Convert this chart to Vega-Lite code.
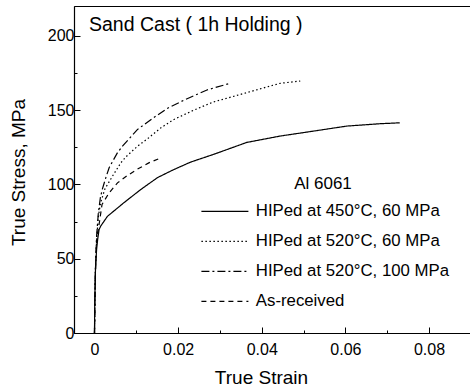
{
  "$schema": "https://vega.github.io/schema/vega-lite/v6.json",
  "width": 396,
  "height": 327,
  "autosize": "none",
  "padding": {"left": 74, "top": 6, "right": 0, "bottom": 56},
  "background": "white",
  "config": {
    "font": "Liberation Sans",
    "view": {"stroke": "black", "strokeWidth": 1}
  },
  "title": {
    "text": "Sand Cast ( 1h Holding )",
    "anchor": "start",
    "frame": "group",
    "orient": "top",
    "baseline": "alphabetic",
    "offset": 0,
    "dy": 44,
    "dx": 15,
    "font": "Liberation Sans",
    "fontSize": 19.5,
    "fontWeight": "normal",
    "color": "black"
  },
  "data": {
    "values": [
      {"series": "HIPed at 450°C, 60 MPa", "strain": 0, "stress": 0},
      {"series": "HIPed at 450°C, 60 MPa", "strain": 0.00007, "stress": 22},
      {"series": "HIPed at 450°C, 60 MPa", "strain": 0.00024, "stress": 43},
      {"series": "HIPed at 450°C, 60 MPa", "strain": 0.0005, "stress": 56},
      {"series": "HIPed at 450°C, 60 MPa", "strain": 0.00076, "stress": 63},
      {"series": "HIPed at 450°C, 60 MPa", "strain": 0.0011, "stress": 69.6},
      {"series": "HIPed at 450°C, 60 MPa", "strain": 0.0015, "stress": 72},
      {"series": "HIPed at 450°C, 60 MPa", "strain": 0.0031, "stress": 78.5},
      {"series": "HIPed at 450°C, 60 MPa", "strain": 0.0071, "stress": 87.8},
      {"series": "HIPed at 450°C, 60 MPa", "strain": 0.0111, "stress": 96.6},
      {"series": "HIPed at 450°C, 60 MPa", "strain": 0.0151, "stress": 104.6},
      {"series": "HIPed at 450°C, 60 MPa", "strain": 0.019, "stress": 110},
      {"series": "HIPed at 450°C, 60 MPa", "strain": 0.023, "stress": 115},
      {"series": "HIPed at 450°C, 60 MPa", "strain": 0.0284, "stress": 120.1},
      {"series": "HIPed at 450°C, 60 MPa", "strain": 0.0364, "stress": 128.2},
      {"series": "HIPed at 450°C, 60 MPa", "strain": 0.0444, "stress": 132.5},
      {"series": "HIPed at 450°C, 60 MPa", "strain": 0.0523, "stress": 135.8},
      {"series": "HIPed at 450°C, 60 MPa", "strain": 0.0603, "stress": 139.2},
      {"series": "HIPed at 450°C, 60 MPa", "strain": 0.0683, "stress": 140.8},
      {"series": "HIPed at 450°C, 60 MPa", "strain": 0.073, "stress": 141.4},

      {"series": "HIPed at 520°C, 60 MPa", "strain": 0, "stress": 0},
      {"series": "HIPed at 520°C, 60 MPa", "strain": 0.0002, "stress": 40},
      {"series": "HIPed at 520°C, 60 MPa", "strain": 0.0005, "stress": 62},
      {"series": "HIPed at 520°C, 60 MPa", "strain": 0.0009, "stress": 78},
      {"series": "HIPed at 520°C, 60 MPa", "strain": 0.0015, "stress": 88},
      {"series": "HIPed at 520°C, 60 MPa", "strain": 0.0025, "stress": 97},
      {"series": "HIPed at 520°C, 60 MPa", "strain": 0.0043, "stress": 105.5},
      {"series": "HIPed at 520°C, 60 MPa", "strain": 0.0063, "stress": 114.5},
      {"series": "HIPed at 520°C, 60 MPa", "strain": 0.0075, "stress": 118.5},
      {"series": "HIPed at 520°C, 60 MPa", "strain": 0.0103, "stress": 125.7},
      {"series": "HIPed at 520°C, 60 MPa", "strain": 0.0127, "stress": 130.7},
      {"series": "HIPed at 520°C, 60 MPa", "strain": 0.0159, "stress": 138.1},
      {"series": "HIPed at 520°C, 60 MPa", "strain": 0.019, "stress": 143.7},
      {"series": "HIPed at 520°C, 60 MPa", "strain": 0.0238, "stress": 150},
      {"series": "HIPed at 520°C, 60 MPa", "strain": 0.0284, "stress": 155.4},
      {"series": "HIPed at 520°C, 60 MPa", "strain": 0.0364, "stress": 161.7},
      {"series": "HIPed at 520°C, 60 MPa", "strain": 0.0444, "stress": 168},
      {"series": "HIPed at 520°C, 60 MPa", "strain": 0.0492, "stress": 169.5},

      {"series": "HIPed at 520°C, 100 MPa", "strain": 0, "stress": 0},
      {"series": "HIPed at 520°C, 100 MPa", "strain": 0.0002, "stress": 40},
      {"series": "HIPed at 520°C, 100 MPa", "strain": 0.0005, "stress": 65},
      {"series": "HIPed at 520°C, 100 MPa", "strain": 0.0009, "stress": 80},
      {"series": "HIPed at 520°C, 100 MPa", "strain": 0.0014, "stress": 91},
      {"series": "HIPed at 520°C, 100 MPa", "strain": 0.0019, "stress": 97},
      {"series": "HIPed at 520°C, 100 MPa", "strain": 0.0027, "stress": 104.4},
      {"series": "HIPed at 520°C, 100 MPa", "strain": 0.0035, "stress": 111.2},
      {"series": "HIPed at 520°C, 100 MPa", "strain": 0.0055, "stress": 121.3},
      {"series": "HIPed at 520°C, 100 MPa", "strain": 0.0067, "stress": 125.7},
      {"series": "HIPed at 520°C, 100 MPa", "strain": 0.0103, "stress": 137},
      {"series": "HIPed at 520°C, 100 MPa", "strain": 0.0139, "stress": 144.4},
      {"series": "HIPed at 520°C, 100 MPa", "strain": 0.0174, "stress": 151.1},
      {"series": "HIPed at 520°C, 100 MPa", "strain": 0.0218, "stress": 157.2},
      {"series": "HIPed at 520°C, 100 MPa", "strain": 0.0269, "stress": 163.5},
      {"series": "HIPed at 520°C, 100 MPa", "strain": 0.0324, "stress": 168},

      {"series": "As-received", "strain": 0, "stress": 0},
      {"series": "As-received", "strain": 0.0002, "stress": 40},
      {"series": "As-received", "strain": 0.0005, "stress": 62},
      {"series": "As-received", "strain": 0.0011, "stress": 73},
      {"series": "As-received", "strain": 0.0018, "stress": 86.5},
      {"series": "As-received", "strain": 0.0035, "stress": 94.3},
      {"series": "As-received", "strain": 0.0055, "stress": 101},
      {"series": "As-received", "strain": 0.0079, "stress": 106},
      {"series": "As-received", "strain": 0.0103, "stress": 110.3},
      {"series": "As-received", "strain": 0.0131, "stress": 114.6},
      {"series": "As-received", "strain": 0.0157, "stress": 117.6}
    ]
  },
  "mark": {"type": "line", "color": "black", "strokeWidth": 1.2, "clip": true},
  "encoding": {
    "x": {
      "field": "strain",
      "type": "quantitative",
      "scale": {"domain": [-0.0049, 0.0898], "nice": false, "zero": false},
      "axis": {
        "title": "True Strain",
        "titleFont": "Liberation Sans",
        "titleFontSize": 19,
        "titleFontWeight": "normal",
        "titleColor": "black",
        "titleX": 187,
        "titleY": 50,
        "titleBaseline": "alphabetic",
        "values": [0, 0.01, 0.02, 0.03, 0.04, 0.05, 0.06, 0.07, 0.08],
        "format": "~g",
        "labelExpr": "round(datum.value*100) % 2 == 0 ? datum.label : ''",
        "labelFont": "Liberation Sans",
        "labelFontSize": 16,
        "labelColor": "black",
        "labelPadding": 14,
        "labelFlush": false,
        "labelOverlap": false,
        "tickSize": {"condition": {"test": "round(datum.value*100) % 2 == 0", "value": -6}, "value": -3},
        "tickColor": "black",
        "tickWidth": 1,
        "domainColor": "black",
        "domainWidth": 1.2,
        "grid": false
      }
    },
    "y": {
      "field": "stress",
      "type": "quantitative",
      "scale": {"domain": [0, 220], "nice": false},
      "axis": {
        "title": "True Stress, MPa",
        "titleFont": "Liberation Sans",
        "titleFontSize": 19,
        "titleFontWeight": "normal",
        "titleColor": "black",
        "titleX": -50,
        "titleY": 166,
        "titleAngle": -90,
        "titleAlign": "center",
        "titleBaseline": "alphabetic",
        "values": [0, 25, 50, 75, 100, 125, 150, 175, 200],
        "labelExpr": "datum.value % 50 == 0 ? datum.label : ''",
        "labelFont": "Liberation Sans",
        "labelFontSize": 16,
        "labelColor": "black",
        "labelPadding": 6,
        "labelFlush": false,
        "labelOverlap": false,
        "tickSize": {"condition": {"test": "datum.value % 50 == 0", "value": -6}, "value": -3},
        "tickColor": "black",
        "tickWidth": 1,
        "domainColor": "black",
        "domainWidth": 1.2,
        "grid": false
      }
    },
    "detail": {"field": "series"},
    "strokeDash": {
      "field": "series",
      "type": "nominal",
      "scale": {
        "domain": ["HIPed at 450°C, 60 MPa", "HIPed at 520°C, 60 MPa", "HIPed at 520°C, 100 MPa", "As-received"],
        "range": [[1, 0], [1.5, 2.5], [8, 3, 2, 3], [5, 4]]
      },
      "legend": {
        "title": "Al 6061",
        "orient": "none",
        "legendX": 122,
        "legendY": 170,
        "titleFont": "Liberation Sans",
        "titleFontSize": 17,
        "titleFontWeight": "normal",
        "titleColor": "black",
        "titleAnchor": "middle",
        "titleAlign": "center",
        "titlePadding": 10,
        "labelFont": "Liberation Sans",
        "labelFontSize": 16.8,
        "labelColor": "black",
        "labelOffset": 43,
        "labelLimit": 400,
        "symbolType": "M-1,0H14.67",
        "symbolSize": 36,
        "symbolStrokeColor": "black",
        "symbolStrokeWidth": 1.2,
        "rowPadding": 12
      }
    }
  }
}
